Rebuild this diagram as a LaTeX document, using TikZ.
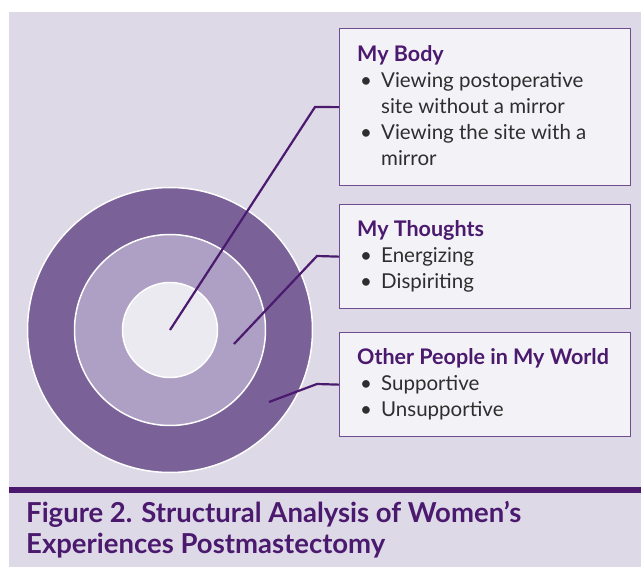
\documentclass[tikz,border=0pt]{standalone}
\usepackage{fontspec}
\setmainfont{Lato}
\definecolor{bgc}{HTML}{DDD9E7}
\definecolor{outerc}{HTML}{7A6298}
\definecolor{midc}{HTML}{AE9FC4}
\definecolor{innerc}{HTML}{ECEAF1}
\definecolor{boxfill}{HTML}{F3F2F7}
\definecolor{boxedge}{HTML}{6E4D90}
\definecolor{deep}{HTML}{4B1A6E}
\definecolor{bodytext}{HTML}{2E2E2E}
\newcommand{\bul}{\makebox[24pt][l]{\hspace{3pt}\textbullet}}
\newcommand{\ttl}[1]{\multicolumn{2}{@{}l@{}}{\fontsize{21.5}{26}\selectfont\color{deep}\bfseries #1}}
\tikzset{
  ringstyle/.style={draw=white, line width=1.5pt},
  infobox/.style={draw=boxedge, fill=boxfill, line width=1.3pt, rectangle, minimum width=291pt, inner sep=0pt, anchor=north west},
  infotext/.style={anchor=base west, inner sep=0pt, text=bodytext, font=\fontsize{20.5}{26}\selectfont},
  leader/.style={draw=deep, line width=2.2pt},
  captext/.style={anchor=base west, inner sep=0pt, text=deep, font=\fontsize{27.5}{31}\selectfont\bfseries},
}
\begin{document}
\begin{tikzpicture}[x=1pt,y=-1pt]
\useasboundingbox (0,0) rectangle (641,567);
\fill[bgc] (9,12) rectangle (641,567);
% rings
\coordinate (c) at (170,330);
\node[circle, ringstyle, fill=outerc, minimum size=285pt, inner sep=0pt] (outer) at (c) {};
\node[circle, ringstyle, fill=midc, minimum size=191pt, inner sep=0pt] (mid) at (c) {};
\node[circle, ringstyle, fill=innerc, minimum size=95pt, inner sep=0pt] (inner) at (c) {};
% boxes
\node[infobox, minimum height=157pt] (b1) at (339,28) {};
\node[infobox, minimum height=104pt] (b2) at (339,204) {};
\node[infobox, minimum height=104pt] (b3) at (339,332) {};
\node[infotext] (t1) at (357,62) {\begin{tabular}[t]{@{}l@{}l@{}}
\ttl{My Body}\\
\bul & Viewing postoperative\\
 & site without a mirror\\
\bul & Viewing the site with a\\
 & mirror
\end{tabular}};
\node[infotext] (t2) at (357,237) {\begin{tabular}[t]{@{}l@{}l@{}}
\ttl{My Thoughts}\\
\bul & Energizing\\
\bul & Dispiriting
\end{tabular}};
\node[infotext] (t3) at (357,365) {\begin{tabular}[t]{@{}l@{}l@{}}
\ttl{Other People in My World}\\
\bul & Supportive\\
\bul & Unsupportive
\end{tabular}};
% leaders
\coordinate (p1) at (170,330);
\coordinate (p2) at (234,344);
\coordinate (p3) at (269,402);
\draw[leader] (p1) -- (315,107) -- (b1.west);
\draw[leader] (p2) -- (317,256) -- (b2.west);
\draw[leader] (p3) -- (317,384) -- (b3.west);
% caption
\fill[deep] (9,487) rectangle (641,493);
\node[captext] (cap1) at (26,522) {Figure 2. Structural Analysis of Women’s};
\node[captext] (cap2) at (26,553) {Experiences Postmastectomy};
\end{tikzpicture}
\end{document}
